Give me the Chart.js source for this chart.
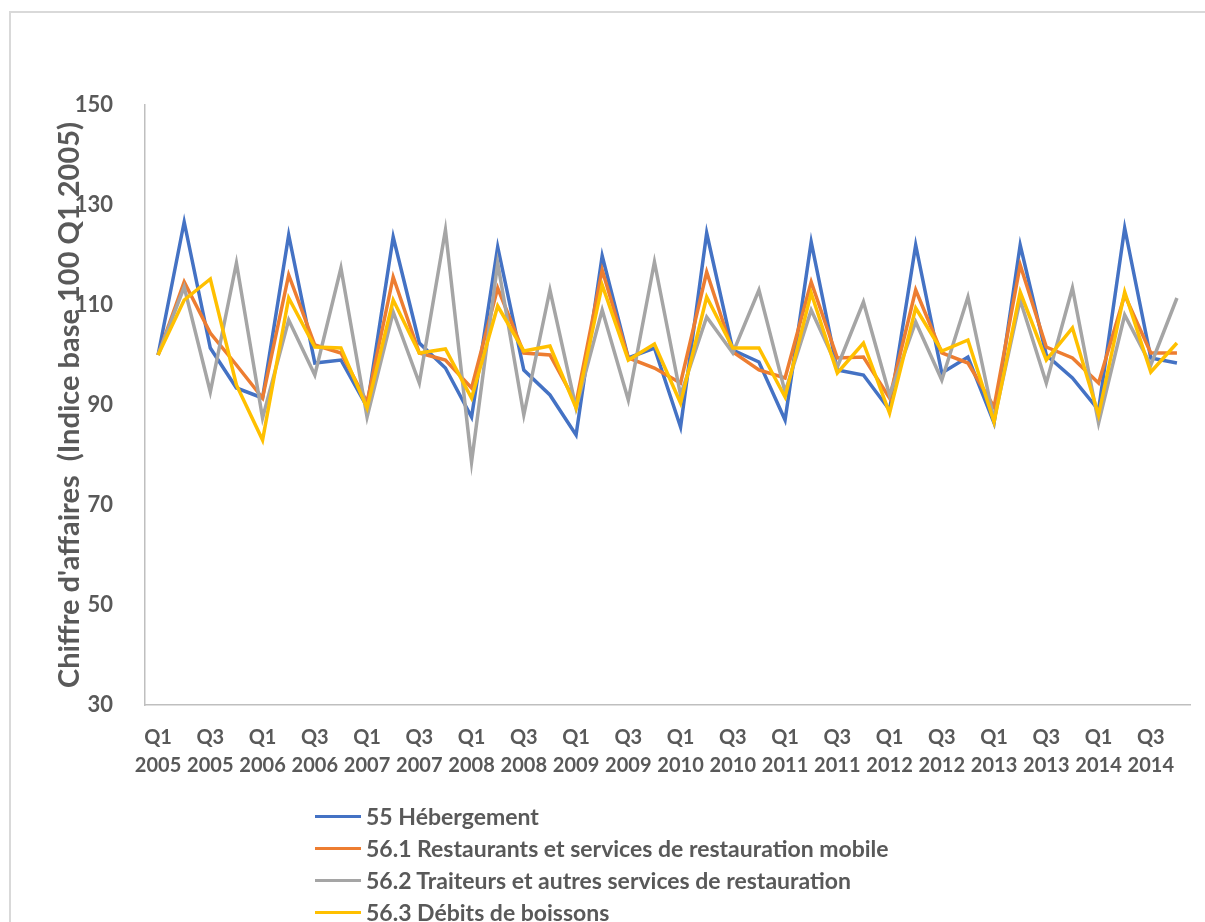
<!DOCTYPE html>
<html>
<head>
<meta charset="utf-8">
<script src="https://cdn.jsdelivr.net/npm/chart.js@4/dist/chart.umd.min.js"></script>
<style>
  body { margin: 0; background: #fff; font-family: Lato, sans-serif; }
  #wrap { position: relative; width: 1205px; height: 922px; overflow: hidden; }
  #frame { position: absolute; left: 9px; top: 11px; width: 1220px; height: 940px; border: 2px solid #d9d9d9; box-sizing: border-box; }
  canvas { position: absolute; left: 0; top: 0; }
  #legend { position: absolute; left: 315px; top: 800px; }
  .item { display: flex; align-items: center; height: 32px; font: bold 23px Lato, sans-serif; color: #595959; }
  .swatch { width: 46px; height: 3px; margin-right: 5px; }
</style>
</head>
<body>
<div id="wrap">
  <div id="frame"></div>
  <canvas id="myChart" width="1205" height="922"></canvas>
  <div id="legend"></div>
</div>
<script>
var years = [2005, 2006, 2007, 2008, 2009, 2010, 2011, 2012, 2013, 2014];
var quarters = ["Q1", "Q2", "Q3", "Q4"];

var seriesNames = [
	"55 Hébergement",
	"56.1 Restaurants et services de restauration mobile",
	"56.2 Traiteurs et autres services de restauration",
	"56.3 Débits de boissons"
];
var seriesColors = ["#4472C4", "#ED7D31", "#A5A5A5", "#FFC000"];

var hebergement = [100, 126.6, 101.4, 93.4, 91.4, 124, 98.4, 99, 89.6, 123.6,
	102.4, 97.4, 87.6, 121.6, 97, 92, 84, 119.8, 99.4, 101.4,
	85.6, 124.4, 101, 98.6, 87, 122.6, 97, 96, 89, 122,
	96.4, 99.6, 86.4, 122, 100, 95.4, 89, 125.4, 99.4, 98.4];
var restaurants = [100, 114.6, 104.4, 98, 91.4, 116, 102, 100.4, 90.6, 115.6,
	100.4, 99, 93.4, 113.4, 100.4, 100, 90.4, 117, 99.4, 97.4,
	94.4, 116.6, 100.6, 97, 95.4, 114.6, 99.4, 99.6, 91.4, 113,
	100.4, 98.4, 89.6, 118, 101.6, 99.4, 94.4, 112, 100.4, 100.4];
var traiteurs = [100, 113.6, 92.6, 118.4, 87.4, 107, 96, 117.4, 87.6, 108.6,
	94.4, 125, 78.6, 118.4, 88, 113, 89.4, 109, 91, 118.6,
	92, 107.6, 100.4, 113, 92.6, 109, 97.6, 110.6, 92, 106.6,
	95, 111.6, 87, 111, 94.4, 113.4, 86.4, 108, 98, 111.4];
var debits = [100, 111, 115.2, 94, 83, 111.4, 101.6, 101.4, 89.4, 111,
	100.4, 101.2, 91.4, 109.8, 100.8, 101.8, 89.4, 114, 99, 102.2,
	90.4, 111.6, 101.4, 101.4, 91.6, 112.4, 96.4, 102.4, 88.4, 109.4,
	100.8, 103, 86.6, 112.6, 99, 105.4, 88, 112.6, 96.6, 102.4];

var yMin = 30, yMax = 150, yStep = 20;
var axisTitle = "Chiffre d'affaires  (Indice base 100 Q1 2005)";

var labels = [];
for (var i = 0; i < years.length; i++) {
	for (var j = 0; j < quarters.length; j++) {
		labels.push([quarters[j], String(years[i])]);
	}
}

var allSeries = [hebergement, restaurants, traiteurs, debits];
var datasets = [];
for (var k = 0; k < allSeries.length; k++) {
	datasets.push({
		label: seriesNames[k],
		data: allSeries[k],
		borderColor: seriesColors[k],
		backgroundColor: seriesColors[k],
		borderWidth: 3.5,
		pointRadius: 0,
		tension: 0,
		fill: false,
		order: allSeries.length - k   // last series on top, like Excel
	});
}

var textColor = "#595959";

var ctx = document.getElementById('myChart').getContext('2d');
var chart = new Chart(ctx, {
	type: 'line',
	data: { labels: labels, datasets: datasets },
	options: {
		responsive: false,
		animation: false,
		layout: { padding: { left: 0, top: 105, right: 15, bottom: 137 } },
		plugins: { legend: { display: false }, tooltip: { enabled: false } },
		scales: {
			x: {
				offset: true,
				grid: { display: false, offset: true },
				border: { display: true, color: "#bfbfbf", width: 1.5 },
				ticks: {
					autoSkip: false,
					maxRotation: 0,
					minRotation: 0,
					padding: 11,
					color: textColor,
					font: { family: "Lato", size: 20, weight: "bold", lineHeight: 1.4 },
					callback: function(val, index) {
						return index % 2 === 0 ? this.getLabelForValue(val) : '';
					}
				},
				afterFit: function(scale) { scale.height = 80; }
			},
			y: {
				min: yMin,
				max: yMax,
				grid: { display: false },
				border: { display: true, color: "#bfbfbf", width: 1.5 },
				ticks: {
					stepSize: yStep,
					padding: 24,
					color: textColor,
					font: { family: "Lato", size: 22, weight: "bold" }
				},
				title: {
					display: true,
					text: axisTitle,
					color: textColor,
					font: { family: "Lato", size: 29, weight: "bold" },
					padding: { top: 52, bottom: 0 }
				},
				afterFit: function(scale) { scale.width = 145; }
			}
		}
	}
});

// legend, one item per line, built from the chart's datasets
var legend = document.getElementById('legend');
chart.data.datasets.forEach(function(ds) {
	var row = document.createElement('div');
	row.className = 'item';
	var sw = document.createElement('span');
	sw.className = 'swatch';
	sw.style.background = ds.borderColor;
	row.appendChild(sw);
	row.appendChild(document.createTextNode(ds.label));
	legend.appendChild(row);
});
</script>
</body>
</html>
